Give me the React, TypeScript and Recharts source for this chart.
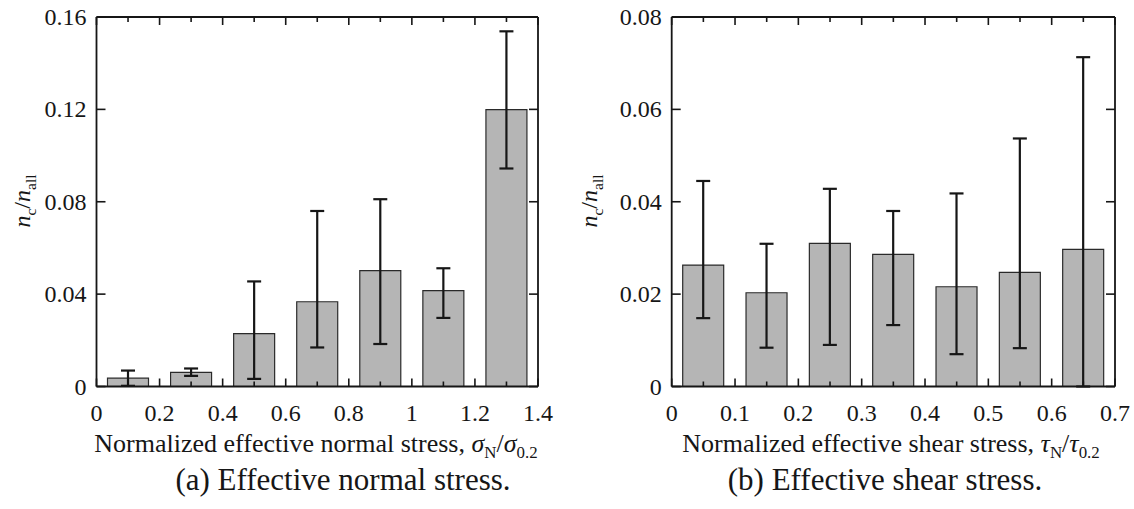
import { BarChart, Bar, XAxis, YAxis, ErrorBar } from 'recharts'

const FONT = '"Liberation Serif", "Times New Roman", serif'
const INK = '#161616'

// (a) effective normal stress, bin centres (width 0.2)
const NORMAL_BINS = [0.1, 0.3, 0.5, 0.7, 0.9, 1.1, 1.3]
const NORMAL_MEAN = [0.0036, 0.0061, 0.0229, 0.0367, 0.0502, 0.0415, 0.1199]
const NORMAL_LOW = [0.0003, 0.0046, 0.0033, 0.0169, 0.0184, 0.0297, 0.0944]
const NORMAL_HIGH = [0.0069, 0.0078, 0.0455, 0.076, 0.0811, 0.0512, 0.1538]
const NORMAL_X_TICKS = [0, 0.1, 0.2, 0.3, 0.4, 0.5, 0.6, 0.7, 0.8, 0.9, 1, 1.1, 1.2, 1.3, 1.4]
const NORMAL_Y_TICKS = [0, 0.04, 0.08, 0.12, 0.16]

// (b) effective shear stress, bin centres (width 0.1)
const SHEAR_BINS = [0.05, 0.15, 0.25, 0.35, 0.45, 0.55, 0.65]
const SHEAR_MEAN = [0.0263, 0.0203, 0.031, 0.0286, 0.0216, 0.0247, 0.0297]
const SHEAR_LOW = [0.0148, 0.0084, 0.009, 0.0133, 0.007, 0.0083, 0]
const SHEAR_HIGH = [0.0445, 0.0309, 0.0428, 0.038, 0.0418, 0.0537, 0.0713]
const SHEAR_X_TICKS = [0, 0.05, 0.1, 0.15, 0.2, 0.25, 0.3, 0.35, 0.4, 0.45, 0.5, 0.55, 0.6, 0.65, 0.7]
const SHEAR_Y_TICKS = [0, 0.02, 0.04, 0.06, 0.08]

const buildRows = (bins: number[], mean: number[], low: number[], high: number[]) =>
  bins.map((x, i) => ({
    x,
    value: mean[i],
    err: [mean[i] - low[i], high[i] - mean[i]],
  }))

const isMajor = (v: number, step: number) => Math.abs(v / step - Math.round(v / step)) < 1e-6

// ticks point inward; labels only on the bottom and left axes
function makeTick(side: 'bottom' | 'top' | 'left' | 'right', step: number) {
  return (props: any) => {
    const { x, y, payload } = props
    const v = payload.value as number
    const major = isMajor(v, step)
    if (side === 'bottom' || side === 'top') {
      const dir = side === 'bottom' ? -1 : 1
      const len = major ? 8 : 5
      return (
        <g>
          <line x1={x} y1={y} x2={x} y2={y + dir * len} stroke={INK} strokeWidth={1.6} />
          {side === 'bottom' && major && (
            <text x={x} y={y + 34} textAnchor="middle" fontSize={24} fontFamily={FONT} fill={INK}>
              {String(v)}
            </text>
          )}
        </g>
      )
    }
    const dir = side === 'left' ? 1 : -1
    return (
      <g>
        <line x1={x} y1={y} x2={x + dir * 9} y2={y} stroke={INK} strokeWidth={1.6} />
        {side === 'left' && (
          <text x={x - 10} y={y + 8} textAnchor="end" fontSize={24} fontFamily={FONT} fill={INK}>
            {String(v)}
          </text>
        )}
      </g>
    )
  }
}

type PanelProps = {
  left: number
  rows: ReturnType<typeof buildRows>
  xTicks: number[]
  xStep: number
  xMax: number
  yTicks: number[]
  yMax: number
  marginLeft: number
  marginRight: number
}

function Panel({ left, rows, xTicks, xStep, xMax, yTicks, yMax, marginLeft, marginRight }: PanelProps) {
  const axisLine = { stroke: INK, strokeWidth: 1.8 }
  return (
    <div style={{ position: 'absolute', left, top: 0 }}>
      <BarChart
        width={567}
        height={509}
        data={rows}
        margin={{ top: 12, right: marginRight, bottom: 82.5, left: marginLeft }}
        barSize={41}
      >
        <XAxis xAxisId="cat" dataKey="x" hide height={0} />
        <XAxis
          xAxisId="num"
          dataKey="x"
          type="number"
          domain={[0, xMax]}
          ticks={xTicks}
          interval={0}
          allowDataOverflow
          height={40}
          tickSize={0}
          tickMargin={0}
          tickLine={false}
          axisLine={axisLine}
          tick={makeTick('bottom', xStep * 2)}
        />
        <XAxis
          xAxisId="top"
          dataKey="x"
          orientation="top"
          type="number"
          domain={[0, xMax]}
          ticks={xTicks}
          interval={0}
          allowDataOverflow
          height={5}
          tickSize={0}
          tickMargin={0}
          tickLine={false}
          axisLine={axisLine}
          tick={makeTick('top', xStep * 2)}
        />
        <YAxis
          yAxisId="l"
          domain={[0, yMax]}
          ticks={yTicks}
          interval={0}
          allowDataOverflow
          width={60}
          tickSize={0}
          tickMargin={0}
          tickLine={false}
          axisLine={axisLine}
          tick={makeTick('left', yTicks[1])}
        />
        <YAxis
          yAxisId="r"
          orientation="right"
          domain={[0, yMax]}
          ticks={yTicks}
          interval={0}
          allowDataOverflow
          width={10}
          tickSize={0}
          tickMargin={0}
          tickLine={false}
          axisLine={axisLine}
          tick={makeTick('right', yTicks[1])}
        />
        <Bar
          xAxisId="cat"
          yAxisId="l"
          dataKey="value"
          fill="#b5b5b5"
          stroke="#2a2a2a"
          strokeWidth={1.2}
          isAnimationActive={false}
        >
          <ErrorBar dataKey="err" direction="y" width={7} stroke={INK} strokeWidth={2.2} isAnimationActive={false} />
        </Bar>
      </BarChart>
    </div>
  )
}

function Sub({ children }: { children: string }) {
  return (
    <tspan fontSize="0.65em" dy={6}>
      {children}
    </tspan>
  )
}

function YTitle({ x, y }: { x: number; y: number }) {
  return (
    <text
      x={x}
      y={y}
      transform={`rotate(-90 ${x} ${y})`}
      textAnchor="middle"
      fontSize={24}
      fontFamily={FONT}
      fill={INK}
    >
      <tspan fontStyle="italic">n</tspan>
      <Sub>c</Sub>
      <tspan dy={-6}>/</tspan>
      <tspan fontStyle="italic">n</tspan>
      <Sub>all</Sub>
    </text>
  )
}

export default function App() {
  const normalRows = buildRows(NORMAL_BINS, NORMAL_MEAN, NORMAL_LOW, NORMAL_HIGH)
  const shearRows = buildRows(SHEAR_BINS, SHEAR_MEAN, SHEAR_LOW, SHEAR_HIGH)

  return (
    <div style={{ position: 'absolute', left: 0, top: 0, width: 1134, height: 509, background: '#fff' }}>
      <Panel
        left={0}
        rows={normalRows}
        xTicks={NORMAL_X_TICKS}
        xStep={0.1}
        xMax={1.4}
        yTicks={NORMAL_Y_TICKS}
        yMax={0.16}
        marginLeft={36.5}
        marginRight={19}
      />
      <Panel
        left={567}
        rows={shearRows}
        xTicks={SHEAR_X_TICKS}
        xStep={0.05}
        xMax={0.7}
        yTicks={SHEAR_Y_TICKS}
        yMax={0.08}
        marginLeft={44.7}
        marginRight={9}
      />
      <svg
        width={1134}
        height={509}
        style={{ position: 'absolute', left: 0, top: 0, pointerEvents: 'none' }}
      >
        <YTitle x={30} y={201} />
        <YTitle x={597} y={201} />

        <text x={316} y={452} textAnchor="middle" fontSize={26} fontFamily={FONT} fill={INK}>
          Normalized effective normal stress,{' '}
          <tspan fontStyle="italic">σ</tspan>
          <Sub>N</Sub>
          <tspan dy={-6}>/</tspan>
          <tspan fontStyle="italic">σ</tspan>
          <Sub>0.2</Sub>
        </text>
        <text x={891} y={452} textAnchor="middle" fontSize={26} fontFamily={FONT} fill={INK}>
          Normalized effective shear stress,{' '}
          <tspan fontStyle="italic">τ</tspan>
          <Sub>N</Sub>
          <tspan dy={-6}>/</tspan>
          <tspan fontStyle="italic">τ</tspan>
          <Sub>0.2</Sub>
        </text>

        <text x={343} y={490} textAnchor="middle" fontSize={31} fontFamily={FONT} fill={INK}>
          (a) Effective normal stress.
        </text>
        <text x={885} y={490} textAnchor="middle" fontSize={31} fontFamily={FONT} fill={INK}>
          (b) Effective shear stress.
        </text>
      </svg>
    </div>
  )
}
